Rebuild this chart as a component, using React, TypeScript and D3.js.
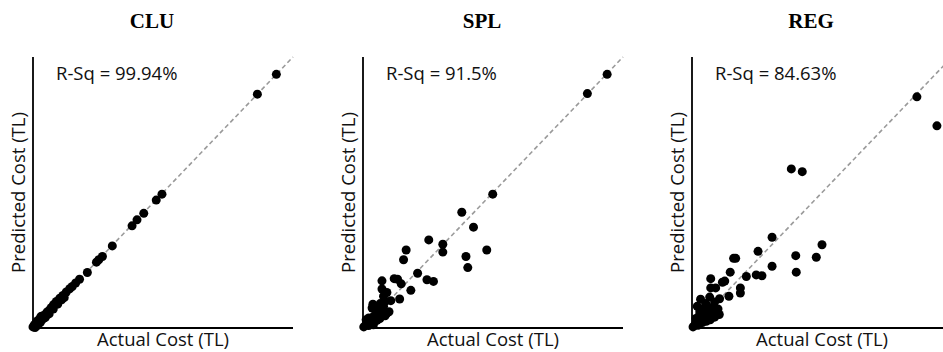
import React from "react";
import * as d3 from "d3";

// Actual vs. predicted cost (thousand TL) for the three estimation models
const cluPoints: [number, number][] = [
  [936, 936], [863, 863], [496, 494], [474, 472], [426, 423], [400, 399], [381, 377],
  [305, 303], [267, 264], [253, 252], [244, 243], [209, 205], [179, 180], [164, 166],
  [151, 153], [141, 145], [128, 133], [115, 120], [103, 110], [90, 98], [79, 86],
  [74, 77], [64, 67], [51, 55], [38, 45], [32, 39], [23, 31], [15, 21], [6, 12], [0, 4],
  [8, 2], [12, 18], [18, 10], [22, 28], [28, 20], [35, 30], [45, 38], [48, 40], [56, 60],
  [62, 52], [70, 75], [78, 70], [85, 90], [95, 88], [110, 104], [120, 112], [15, 25],
  [5, 10], [30, 42],
];

const splPoints: [number, number][] = [
  [939, 936], [863, 865], [499, 494], [380, 427], [425, 372], [253, 325], [307, 309],
  [307, 280], [166, 288], [156, 252], [476, 288], [396, 264], [403, 223], [210, 202],
  [120, 182], [133, 180], [147, 163], [246, 178], [271, 172], [184, 139], [141, 107],
  [73, 174], [73, 144], [92, 131], [79, 117], [107, 101], [86, 98], [66, 90], [38, 88],
  [35, 74], [54, 67], [73, 61], [92, 55], [60, 49], [41, 43], [22, 37], [54, 28],
  [28, 25], [15, 16], [9, 9], [3, 4], [22, 9], [35, 18], [47, 37], [79, 80], [64, 74],
  [12, 30], [40, 12], [65, 35], [85, 45], [100, 60],
];

const regPoints: [number, number][] = [
  [865, 853], [942, 746], [382, 587], [424, 577], [308, 335], [500, 307], [254, 283],
  [160, 257], [168, 257], [399, 267], [478, 261], [308, 228], [401, 206], [147, 206],
  [209, 190], [247, 196], [269, 193], [126, 173], [117, 169], [72, 182], [72, 148],
  [91, 148], [186, 148], [186, 129], [142, 117], [106, 108], [33, 106], [68, 114],
  [87, 96], [53, 90], [40, 71], [68, 59], [87, 40], [58, 40], [29, 47], [45, 28],
  [17, 25], [10, 10], [4, 4], [23, 10], [36, 22], [62, 77], [81, 77], [49, 53],
  [15, 35], [25, 15], [40, 20], [55, 25], [70, 30], [81, 42], [95, 55], [100, 70],
  [30, 60], [20, 80], [105, 50],
];

const panelTitles = ["CLU", "SPL", "REG"];
const rSquared = ["99.94%", "91.5%", "84.63%"];
const panelData = [cluPoints, splPoints, regPoints];

const axisMax = 1000;
const plotW = 260;
const plotH = 271;
const plotTop = 57;
const panelLefts = [33, 363, 692];

const sans = "'Open Sans', sans-serif";

function Panel({ index }: { index: number }) {
  const left = panelLefts[index];
  const x = d3.scaleLinear().domain([0, axisMax]).range([0, plotW]);
  const y = d3.scaleLinear().domain([0, axisMax]).range([plotH, 0]);
  const diag = d3.line<number>()
    .x((v) => x(v))
    .y((v) => y(v))([0, axisMax]) as string;

  return (
    <g>
      <text
        x={left + 119}
        y={28}
        textAnchor="middle"
        fontFamily="'Liberation Serif', serif"
        fontWeight="bold"
        fontSize={21}
        fill="#000"
      >
        {panelTitles[index]}
      </text>
      <g transform={`translate(${left},${plotTop})`}>
        <path d={diag} stroke="#9a9a9a" strokeWidth={1.6} strokeDasharray="4.5,3" fill="none" />
        {panelData[index].map(([a, p], i) => (
          <circle key={i} cx={x(a)} cy={y(p)} r={4.5} fill="#000" />
        ))}
        <line x1={0} y1={0} x2={0} y2={plotH} stroke="#000" strokeWidth={1.8} />
        <line x1={0} y1={plotH} x2={plotW} y2={plotH} stroke="#000" strokeWidth={1.8} />
        <text x={23} y={23} fontFamily={sans} fontSize={18.5} fill="#111">
          R-Sq = {rSquared[index]}
        </text>
      </g>
      <text
        x={left + 130}
        y={346}
        textAnchor="middle"
        fontFamily={sans}
        fontSize={18.5}
        fill="#111"
      >
        Actual Cost (TL)
      </text>
      <text
        transform={`translate(${left - 8},${plotTop + plotH / 2}) rotate(-90)`}
        textAnchor="middle"
        fontFamily={sans}
        fontSize={18.5}
        fill="#111"
      >
        Predicted Cost (TL)
      </text>
    </g>
  );
}

export default function App() {
  return (
    <div style={{ position: "fixed", left: 0, top: 0 }}>
      <svg width={943} height={352} viewBox="0 0 943 352" style={{ display: "block", background: "#fff" }}>
        <rect width={943} height={352} fill="#fff" />
        {panelTitles.map((_, i) => (
          <Panel key={i} index={i} />
        ))}
      </svg>
    </div>
  );
}
